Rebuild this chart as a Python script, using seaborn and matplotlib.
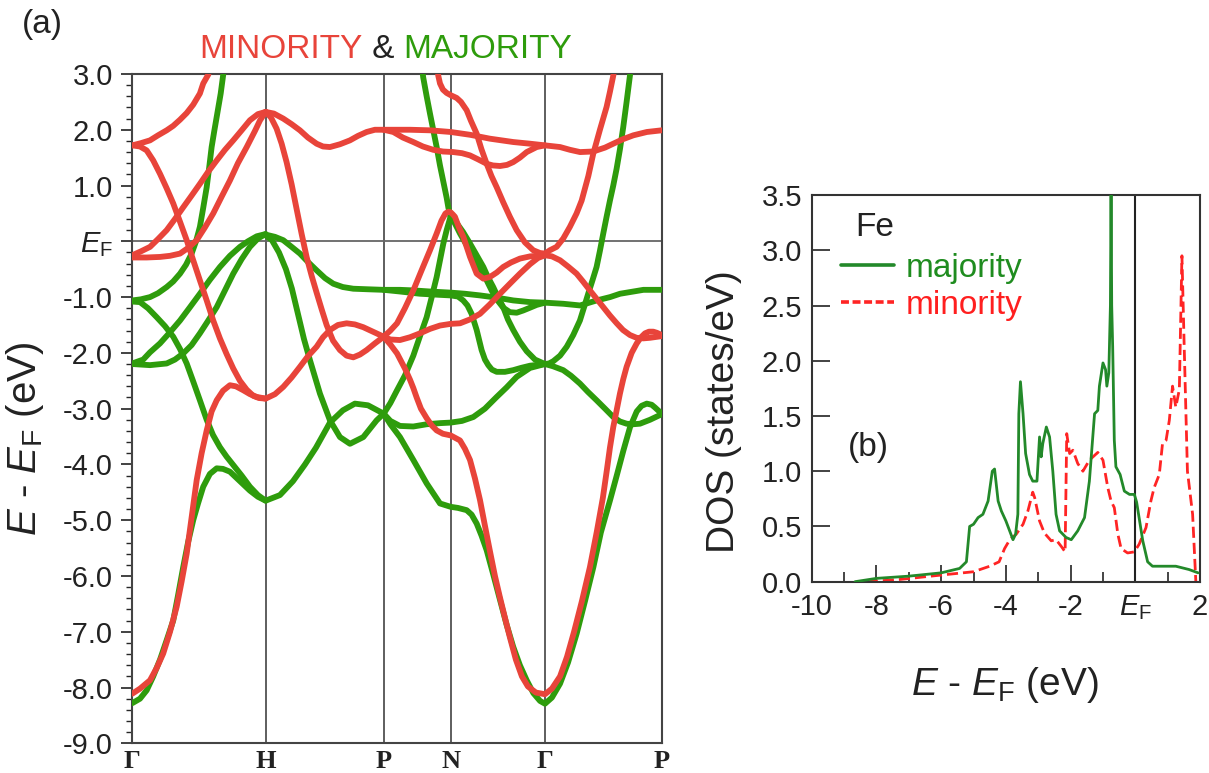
import numpy as np
import matplotlib
matplotlib.use('Agg')
import matplotlib.pyplot as plt
from matplotlib.ticker import MultipleLocator
from matplotlib.lines import Line2D
import seaborn as sns

# ---- high-symmetry path (k in units of 2pi/a) ----
kpts = [0.0, 1.0, 1.885, 2.387, 3.094, 3.969]
klabels = ['Γ', 'H', 'P', 'N', 'Γ', 'P']

# ---- majority bands (k, E - EF in eV) ----
maj_1 = ([0, .058, .108, .157, .208, .258, .307, .343, .382, .418, .457, .493, .532, .582, .633, .680, .732, .807, .882, .942, 1.0,
          1.107, 1.205, 1.295, 1.377, 1.482, 1.579, 1.669, 1.767, 1.885],
         [-8.28, -8.2, -8.05, -7.8, -7.5, -7.15, -6.8, -6.35, -5.84, -5.4, -5.0, -4.7, -4.4, -4.17, -4.07, -4.08, -4.13, -4.3, -4.47, -4.58, -4.65,
          -4.55, -4.3, -4.0, -3.7, -3.25, -3.03, -2.91, -2.94, -3.09])
maj_2 = ([0, .058, .118, .183, .245, .307, .358, .408, .455, .507, .558, .605, .657, .707, .757, .820, .882, .942, 1.0],
         [-1.08, -1.09, -1.2, -1.36, -1.52, -1.71, -1.93, -2.19, -2.5, -2.85, -3.2, -3.47, -3.69, -3.86, -4.01, -4.2, -4.40, -4.55, -4.65])
maj_3 = ([0, .065, .133, .193, .258, .307, .358, .403, .445, .478, .507, .532, .558, .577, .595, .615, .633, .663, .682, .702],
         [-1.06, -1.04, -1.0, -0.93, -0.82, -0.72, -0.58, -0.42, -0.22, 0.0, 0.26, 0.6, 0.97, 1.33, 1.69, 1.98, 2.23, 2.65, 2.99, 3.3])
maj_4 = ([0, .082, .133, .208, .283, .358, .433, .507, .582, .657, .732, .807, .867, .933, 1.0],
         [-2.19, -2.12, -1.99, -1.83, -1.63, -1.42, -1.18, -0.94, -0.69, -0.46, -0.26, -0.10, 0.0, 0.09, 0.13])
maj_5 = ([0, .133, .258, .320, .382, .445, .507, .567, .633, .695, .757, .820, .882, .942, 1.0],
         [-2.2, -2.22, -2.19, -2.12, -2.01, -1.86, -1.65, -1.43, -1.18, -0.88, -0.58, -0.32, -0.10, 0.05, 0.13])
maj_6 = ([1.0, 1.070, 1.132, 1.195, 1.257, 1.317, 1.382, 1.445, 1.507, 1.579, 1.657, 1.767, 1.885,
          2.007, 2.107, 2.232, 2.387, 2.494, 2.607, 2.732, 2.856, 2.982, 3.094,
          3.232, 3.357, 3.482, 3.582, 3.657, 3.757, 3.832, 3.969],
         [0.12, 0.08, 0.02, -0.1, -0.22, -0.37, -0.52, -0.66, -0.76, -0.82, -0.85, -0.86, -0.87,
          -0.87, -0.88, -0.90, -0.92, -0.94, -0.97, -1.01, -1.06, -1.09, -1.1,
          -1.12, -1.15, -1.06, -1.0, -0.94, -0.9, -0.87, -0.87])
maj_7 = ([1.0, 1.047, 1.100, 1.152, 1.197, 1.242, 1.287, 1.332, 1.407, 1.482, 1.557, 1.632, 1.732, 1.832, 1.885],
         [0.11, 0.02, -0.2, -0.5, -0.85, -1.3, -1.75, -2.13, -2.73, -3.21, -3.51, -3.63, -3.51, -3.21, -3.09])
maj_8 = ([1.885, 1.935, 1.985, 2.045, 2.107, 2.157, 2.207, 2.245, 2.282, 2.307, 2.332, 2.357, 2.387],
         [-3.09, -2.9, -2.67, -2.4, -2.05, -1.7, -1.36, -1.0, -0.64, -0.34, -0.04, 0.2, 0.45])
maj_9 = ([2.164, 2.181, 2.207, 2.232, 2.257, 2.282, 2.307, 2.332, 2.357, 2.370, 2.387],
         [3.3, 2.94, 2.6, 2.29, 1.99, 1.69, 1.36, 1.07, 0.78, 0.6, 0.45])
maj_10 = ([1.885, 1.935, 2.007, 2.107, 2.207, 2.307, 2.387, 2.472, 2.557, 2.644, 2.732, 2.806, 2.882, 2.982, 3.094],
          [-3.09, -3.22, -3.31, -3.32, -3.28, -3.26, -3.25, -3.22, -3.15, -3.0, -2.79, -2.62, -2.43, -2.27, -2.2])
maj_11 = ([1.885, 1.935, 2.007, 2.107, 2.207, 2.307, 2.387, 2.442, 2.507, 2.544, 2.582, 2.619, 2.657, 2.706, 2.757, 2.806,
           2.856, 2.906, 2.957, 3.007, 3.057, 3.094,
           3.146, 3.207, 3.267, 3.332, 3.394, 3.457, 3.513, 3.582, 3.632, 3.682, 3.732, 3.782, 3.818, 3.857, 3.894, 3.919, 3.969],
          [-3.09, -3.28, -3.51, -3.92, -4.34, -4.70, -4.76, -4.78, -4.82, -4.9, -5.06, -5.28, -5.54, -5.97, -6.43, -6.87,
           -7.27, -7.6, -7.87, -8.1, -8.24, -8.29,
           -8.18, -7.93, -7.55, -7.03, -6.45, -5.84, -5.22, -4.64, -4.2, -3.75, -3.33, -3.05, -2.95, -2.91, -2.93, -2.98, -3.09])
maj_13 = ([2.387, 2.434, 2.479, 2.532, 2.582, 2.632, 2.666, 2.706, 2.741, 2.781, 2.816, 2.856, 2.906, 2.957, 3.019, 3.094],
          [0.45, 0.32, 0.17, -0.04, -0.25, -0.46, -0.64, -0.82, -1.0, -1.18, -1.4, -1.59, -1.8, -1.97, -2.12, -2.2])
maj_14 = ([2.387, 2.419, 2.457, 2.507, 2.557, 2.607, 2.657, 2.694, 2.732, 2.781, 2.831, 2.882, 2.931, 2.982, 3.032, 3.094],
          [0.45, 0.32, 0.14, -0.07, -0.28, -0.5, -0.70, -0.88, -1.04, -1.19, -1.27, -1.28, -1.24, -1.19, -1.14, -1.1])
maj_15 = ([1.885, 2.007, 2.157, 2.307, 2.387, 2.442, 2.481, 2.513, 2.544, 2.582, 2.619, 2.644, 2.669, 2.696, 2.732, 2.794,
           2.856, 2.914, 2.982, 3.094],
          [-0.87, -0.90, -0.94, -0.96, -0.97, -0.99, -1.06, -1.15, -1.30, -1.59, -1.95, -2.12, -2.22, -2.3, -2.34, -2.34,
           -2.31, -2.27, -2.23, -2.2])
maj_16 = ([3.094, 3.124, 3.156, 3.207, 3.257, 3.306, 3.356, 3.386, 3.418, 3.450, 3.481, 3.506, 3.531, 3.556, 3.581, 3.606,
           3.631, 3.656, 3.681, 3.706, 3.731, 3.746],
          [-2.2, -2.19, -2.15, -2.05, -1.89, -1.68, -1.42, -1.19, -0.94, -0.70, -0.46, -0.17, 0.14, 0.44, 0.73, 1.0,
           1.3, 1.65, 2.05, 2.5, 2.97, 3.3])
maj_17 = ([3.094, 3.154, 3.231, 3.289, 3.356, 3.416, 3.481, 3.544, 3.606, 3.656, 3.706, 3.753, 3.806, 3.881, 3.969],
          [-2.2, -2.24, -2.31, -2.41, -2.55, -2.70, -2.85, -3.0, -3.15, -3.23, -3.27, -3.28, -3.27, -3.2, -3.1])

# ---- minority bands ----
min_1 = ([0, .058, .133, .183, .232, .283, .333, .370, .408, .445, .483, .520, .558, .595, .633, .680, .732, .777, .832, .882, .933, 1.0,
          1.070, 1.132, 1.195, 1.257, 1.317, 1.382, 1.430, 1.482, 1.542, 1.607, 1.669, 1.732, 1.804, 1.885],
         [-8.11, -8.02, -7.87, -7.65, -7.39, -7.0, -6.55, -6.1, -5.60, -4.95, -4.28, -3.8, -3.39, -3.05, -2.85, -2.68, -2.58, -2.6, -2.67, -2.74, -2.79, -2.82,
          -2.74, -2.61, -2.44, -2.25, -2.06, -1.89, -1.72, -1.59, -1.50, -1.47, -1.49, -1.54, -1.62, -1.71])
min_2 = ([0, .058, .108, .157, .208, .258, .307, .358, .408, .457, .507, .558, .607, .657, .707, .757, .807, .858, .907, .950, 1.0],
         [1.72, 1.70, 1.63, 1.45, 1.21, 0.95, 0.68, 0.35, 0.02, -0.34, -0.70, -1.06, -1.42, -1.74, -2.02, -2.28, -2.5, -2.66, -2.77, -2.81, -2.82])
min_3 = ([0, .065, .133, .193, .258, .307, .358, .408, .457, .507, .532, .570, .590],
         [1.72, 1.76, 1.81, 1.9, 1.99, 2.07, 2.18, 2.3, 2.45, 2.65, 2.83, 2.99, 3.2])
min_4 = ([0, .065, .133, .193, .258, .320, .382, .445, .507, .567, .633, .695, .757, .820, .882, .942, 1.0],
         [-0.25, -0.18, -0.10, 0.04, 0.20, 0.40, 0.61, 0.82, 1.03, 1.24, 1.45, 1.64, 1.81, 1.99, 2.17, 2.28, 2.32])
min_5 = ([0, .108, .208, .283, .358, .418, .483, .545, .607, .670, .732, .792, .858, .920, .958, 1.0],
         [-0.29, -0.29, -0.28, -0.26, -0.22, -0.12, 0.02, 0.25, 0.50, 0.80, 1.09, 1.40, 1.69, 1.98, 2.17, 2.32])
min_6 = ([1.0, 1.062, 1.132, 1.195, 1.257, 1.317, 1.382, 1.430, 1.482, 1.557, 1.632, 1.692, 1.757, 1.819, 1.885,
          1.957, 2.082, 2.232, 2.387, 2.532, 2.681, 2.856, 2.982, 3.094,
          3.207, 3.282, 3.357, 3.456, 3.544, 3.606, 3.678, 3.756, 3.858, 3.969],
         [2.32, 2.29, 2.2, 2.1, 1.99, 1.86, 1.75, 1.70, 1.69, 1.74, 1.81, 1.89, 1.96, 2.0, 2.0,
          2.0, 2.0, 1.99, 1.96, 1.91, 1.84, 1.78, 1.75, 1.72,
          1.69, 1.64, 1.60, 1.61, 1.68, 1.75, 1.83, 1.90, 1.96, 1.99])
min_7 = ([1.0, 1.040, 1.082, 1.120, 1.157, 1.195, 1.232, 1.270, 1.307, 1.345, 1.382, 1.420, 1.457, 1.505, 1.557, 1.607,
          1.657, 1.707, 1.757, 1.819, 1.885],
         [2.32, 2.22, 2.02, 1.75, 1.42, 1.02, 0.58, 0.13, -0.28, -0.62, -0.92, -1.22, -1.5, -1.78, -1.95, -2.05,
          -2.08, -2.03, -1.95, -1.83, -1.71])
min_9 = ([1.885, 1.935, 2.007, 2.082, 2.157, 2.232, 2.307, 2.387, 2.457, 2.532, 2.607, 2.681, 2.757, 2.831, 2.906, 2.982, 3.041, 3.094],
         [-1.71, -1.76, -1.77, -1.72, -1.65, -1.57, -1.51, -1.48, -1.47, -1.40, -1.30, -1.13, -0.94, -0.76, -0.58, -0.41, -0.3, -0.25])
min_10 = ([1.885, 1.935, 1.985, 2.044, 2.107, 2.169, 2.232, 2.282, 2.318, 2.348, 2.370, 2.387, 2.404, 2.419, 2.449, 2.482,
           2.532, 2.582, 2.632, 2.681, 2.732, 2.781, 2.839, 2.906, 2.982, 3.094],
          [-1.71, -1.6, -1.47, -1.2, -0.88, -0.52, -0.16, 0.14, 0.37, 0.5, 0.53, 0.52, 0.48, 0.44, 0.25, 0.08,
           -0.28, -0.58, -0.67, -0.64, -0.56, -0.46, -0.38, -0.31, -0.27, -0.25])
min_11 = ([1.885, 1.935, 1.985, 2.044, 2.082, 2.107, 2.132, 2.164, 2.207, 2.245, 2.282, 2.329, 2.387, 2.457, 2.494, 2.532,
           2.569, 2.607, 2.644, 2.681, 2.719, 2.756, 2.794, 2.831, 2.876, 2.921, 2.966, 3.026, 3.094,
           3.146, 3.207, 3.259, 3.312, 3.371, 3.431, 3.483, 3.528, 3.558, 3.581, 3.606, 3.632, 3.656, 3.681, 3.706,
           3.744, 3.782, 3.814, 3.844, 3.874, 3.906, 3.933, 3.969],
          [-1.71, -1.85, -2.01, -2.28, -2.48, -2.63, -2.80, -3.0, -3.17, -3.3, -3.39, -3.45, -3.48, -3.57, -3.72, -3.92,
           -4.25, -4.64, -5.1, -5.55, -6.0, -6.38, -6.75, -7.1, -7.5, -7.8, -7.98, -8.09, -8.12,
           -8.02, -7.8, -7.45, -7.0, -6.45, -5.84, -5.2, -4.6, -4.1, -3.7, -3.33, -3.02, -2.73, -2.47, -2.25,
           -2.0, -1.83, -1.72, -1.65, -1.62, -1.62, -1.64, -1.68])
min_12 = ([1.885, 1.957, 2.029, 2.107, 2.179, 2.257, 2.329, 2.406, 2.472, 2.532, 2.592, 2.657, 2.704, 2.757, 2.809, 2.856,
           2.906, 2.957, 3.032, 3.094],
          [2.0, 1.96, 1.86, 1.78, 1.70, 1.64, 1.61, 1.60, 1.58, 1.54, 1.47, 1.39, 1.36, 1.35, 1.37, 1.42,
           1.50, 1.60, 1.69, 1.72])
min_13 = ([2.280, 2.294, 2.307, 2.329, 2.357, 2.387, 2.432, 2.464, 2.507, 2.539, 2.582, 2.618, 2.657, 2.693, 2.732, 2.781,
           2.831, 2.882, 2.944, 3.006, 3.057, 3.094],
          [3.3, 2.97, 2.83, 2.72, 2.66, 2.62, 2.57, 2.5, 2.35, 2.16, 1.93, 1.65, 1.39, 1.17, 0.97, 0.70,
           0.44, 0.20, -0.02, -0.16, -0.21, -0.22])
min_14 = ([3.094, 3.131, 3.181, 3.231, 3.281, 3.331, 3.369, 3.394, 3.419, 3.456, 3.506, 3.556, 3.581, 3.606, 3.626],
          [-0.22, -0.16, -0.10, 0.05, 0.26, 0.50, 0.73, 0.95, 1.17, 1.57, 2.0, 2.41, 2.68, 2.97, 3.25])
min_15 = ([3.094, 3.146, 3.207, 3.266, 3.331, 3.379, 3.431, 3.481, 3.531, 3.581, 3.632, 3.679, 3.731, 3.781, 3.831, 3.881, 3.969],
          [-0.25, -0.27, -0.34, -0.45, -0.58, -0.72, -0.88, -1.03, -1.18, -1.33, -1.47, -1.59, -1.68, -1.73, -1.74, -1.73, -1.70])

majority_bands = [maj_1, maj_2, maj_3, maj_4, maj_5, maj_6, maj_7, maj_8, maj_9, maj_10,
                  maj_11, maj_13, maj_14, maj_15, maj_16, maj_17]
minority_bands = [min_1, min_2, min_3, min_4, min_5, min_6, min_7, min_9, min_10,
                  min_11, min_12, min_13, min_14, min_15]

# ---- density of states (E - EF in eV, states/eV) ----
dos_e_maj = [-8.66, -8.0, -7.0, -6.0, -5.43, -5.22, -5.12, -5.0, -4.86, -4.71, -4.55, -4.42, -4.35, -4.24, -4.14, -4.0,
             -3.78, -3.70, -3.63, -3.6, -3.55, -3.47, -3.39, -3.27, -3.17, -3.04, -2.96, -2.91, -2.86, -2.75, -2.65,
             -2.55, -2.45, -2.34, -2.14, -1.98, -1.78, -1.57, -1.42, -1.26, -1.16, -1.11, -1.0, -0.92, -0.88, -0.82,
             -0.77, -0.75, -0.73, -0.70, -0.65, -0.60, -0.47, -0.34, -0.18, -0.03, 0.04, 0.23, 0.38, 0.53, 1.25, 1.66, 1.94]
dos_maj = [0.0, 0.03, 0.05, 0.08, 0.12, 0.18, 0.50, 0.52, 0.58, 0.61, 0.73, 1.0, 1.02, 0.73, 0.64, 0.55,
           0.38, 0.43, 0.61, 1.52, 1.81, 1.52, 1.16, 0.97, 0.91, 0.91, 1.31, 1.13, 1.25, 1.40, 1.31,
           1.0, 0.61, 0.46, 0.40, 0.38, 0.46, 0.58, 0.91, 1.52, 1.55, 1.77, 1.98, 1.92, 1.77, 1.89,
           2.5, 3.6, 2.5, 2.13, 1.28, 1.04, 0.97, 0.82, 0.79, 0.79, 0.72, 0.37, 0.18, 0.14, 0.14, 0.11, 0.08]
dos_e_min = [-8.3, -7.28, -6.0, -5.0, -4.5, -4.21, -4.04, -3.88, -3.68, -3.47, -3.32, -3.17, -3.11, -2.96, -2.81, -2.60,
             -2.45, -2.29, -2.17, -2.12, -2.03, -1.93, -1.78, -1.62, -1.42, -1.16, -1.0, -0.85, -0.75, -0.65, -0.54,
             -0.44, -0.24, -0.03, 0.12, 0.33, 0.48, 0.58, 0.74, 0.84, 0.95, 1.05, 1.15, 1.25, 1.36, 1.44, 1.51, 1.61, 1.77, 1.87]
dos_min = [0.0, 0.02, 0.06, 0.09, 0.14, 0.18, 0.30, 0.38, 0.43, 0.52, 0.64, 0.81, 0.76, 0.55, 0.44, 0.37,
           0.38, 0.32, 0.27, 1.34, 1.16, 1.19, 1.07, 1.0, 1.10, 1.17, 1.10, 0.85, 0.73, 0.67, 0.43,
           0.30, 0.26, 0.27, 0.34, 0.49, 0.73, 0.85, 0.97, 1.25, 1.28, 1.46, 1.77, 1.58, 1.74, 2.95, 2.13, 1.0, 0.61, 0.0]

RED = '#e8443a'
GREEN = '#2e9c0c'
DOS_GREEN = '#23892a'
DOS_RED = '#ff2424'

sns.set_theme(style='white')
plt.rcParams['font.family'] = ['Liberation Sans', 'DejaVu Sans']
plt.rcParams['mathtext.fontset'] = 'custom'
plt.rcParams['mathtext.rm'] = 'Liberation Sans'
plt.rcParams['mathtext.it'] = 'Liberation Sans:italic'
plt.rcParams['axes.unicode_minus'] = False

fig = plt.figure(figsize=(12.09, 7.73), dpi=100)
ax = fig.add_axes([0.1094, 0.0384, 0.4379, 0.8659])
ax2 = fig.add_axes([0.6714, 0.2475, 0.3212, 0.5002])

# ---- (a) band structure ----
for k in kpts[1:-1]:
    ax.axvline(k, color='#333333', lw=1.1, zorder=1)
ax.axhline(0, color='#666666', lw=1.3, zorder=1)

for k, e in majority_bands:
    sns.lineplot(x=k, y=e, ax=ax, color=GREEN, lw=4.2, sort=False, estimator=None,
                 solid_capstyle='round', solid_joinstyle='round', zorder=3)
for k, e in minority_bands:
    sns.lineplot(x=k, y=e, ax=ax, color=RED, lw=4.2, sort=False, estimator=None,
                 solid_capstyle='round', solid_joinstyle='round', zorder=4)

ax.set_xlim(kpts[0], kpts[-1])
ax.set_ylim(-9, 3)
ax.set_xticks(kpts)
ax.set_xticklabels(klabels, fontfamily='Liberation Serif', fontweight='bold', fontsize=19)
ax.tick_params(axis='x', length=0, pad=5, colors='#222222')
yt = np.arange(-9, 3.01, 1.0)
ax.set_yticks(yt)
ax.set_yticklabels([r'$E_{\rm F}$' if abs(v) < 1e-9 else f'{v:.1f}' for v in yt])
ax.yaxis.set_minor_locator(MultipleLocator(0.2))
ax.tick_params(axis='y', which='major', direction='out', length=8, width=1.2, pad=6,
               labelsize=21, colors='#222222', left=True)
ax.tick_params(axis='y', which='minor', direction='out', length=4, width=1.0, left=True)
for s in ax.spines.values():
    s.set_color('#444444')
    s.set_linewidth(1.5)
ax.set_ylabel(r'$E$ - $E_{\rm F}$ (eV)', fontsize=29, color='#222222')
ax.yaxis.set_label_coords(-0.163, 0.455)
ax.set_xlabel('')

# coloured title
t1 = fig.text(0.165, 0.925, 'MINORITY', color=RED, fontsize=24, va='baseline')
t2 = ax.annotate(' & ', xy=(1, 0), xycoords=t1, va='bottom', ha='left', fontsize=24, color='#222222')
ax.annotate('MAJORITY', xy=(1, 0), xycoords=t2, va='bottom', ha='left', fontsize=24, color=GREEN)
fig.text(0.018, 0.957, '(a)', fontsize=24, color='#222222', va='baseline')

# ---- (b) density of states ----
sns.lineplot(x=dos_e_maj, y=dos_maj, ax=ax2, color=DOS_GREEN, lw=2.0, sort=False, estimator=None, zorder=3)
sns.lineplot(x=dos_e_min, y=dos_min, ax=ax2, color=DOS_RED, lw=2.0, sort=False, estimator=None,
             ls=(0, (4, 1.8)), zorder=2)
ax2.axvline(0, color='#222222', lw=1.5, zorder=1)
ax2.set_xlim(-10, 2)
ax2.set_ylim(0, 3.5)
xt = [-10, -8, -6, -4, -2, 0, 2]
ax2.set_xticks(xt)
ax2.set_xticklabels([r'$E_{\rm F}$' if v == 0 else str(v) for v in xt])
ax2.xaxis.set_minor_locator(MultipleLocator(1))
ax2.set_yticks(np.arange(0, 3.51, 0.5))
ax2.set_yticklabels([f'{v:.1f}' for v in np.arange(0, 3.51, 0.5)])
ax2.tick_params(axis='x', which='major', direction='in', length=12, width=1.2, pad=8,
                labelsize=21, colors='#222222', bottom=True)
ax2.tick_params(axis='x', which='minor', direction='in', length=7, width=1.2, bottom=True)
ax2.tick_params(axis='y', which='major', direction='in', length=13, width=1.2, pad=7,
                labelsize=21, colors='#222222', left=True)
for s in ax2.spines.values():
    s.set_color('#333333')
    s.set_linewidth(1.5)
ax2.set_ylabel('DOS (states/eV)', fontsize=28, color='#222222')
ax2.yaxis.set_label_coords(-0.18, 0.44)
ax2.set_xlabel(r'$E$ - $E_{\rm F}$ (eV)', fontsize=28, color='#222222')
ax2.xaxis.set_label_coords(0.498, -0.215)

ax2.text(-8.66, 3.13, 'Fe', fontsize=24, color='#222222', va='baseline')
ax2.text(-8.88, 1.14, '(b)', fontsize=24, color='#222222', va='baseline')
handles = [Line2D([], [], color=DOS_GREEN, lw=2.6),
           Line2D([], [], color=DOS_RED, lw=2.6, ls=(0, (2.2, 1.0)))]
leg = ax2.legend(handles, ['majority', 'minority'], loc='upper left', bbox_to_anchor=(0.075, 0.85),
                 frameon=False, fontsize=24, handlelength=1.6, handletextpad=0.35,
                 labelspacing=0.18, borderpad=0, borderaxespad=0)
leg.get_texts()[0].set_color('#1f8c1f')
leg.get_texts()[1].set_color('#ff1f1f')

fig.savefig('out.png', dpi=100, facecolor='white')
